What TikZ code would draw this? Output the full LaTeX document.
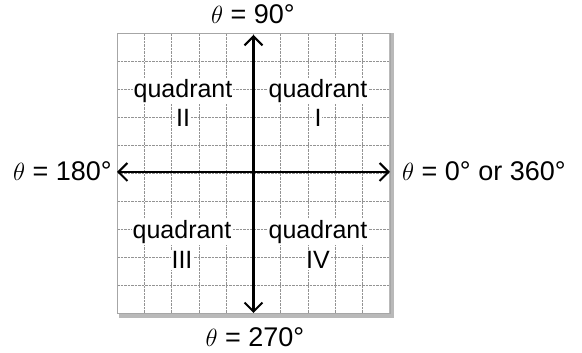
\documentclass[tikz,border=0pt]{standalone}
\usepackage{fontspec}
\setmainfont{Liberation Sans}
\usetikzlibrary{arrows.meta}
\begin{document}
\begin{tikzpicture}[x=1pt,y=1pt,
  gridline/.style={gray!85, line width=0.8pt, dash pattern=on 2.5pt off 1pt},
  axisline/.style={line width=2.2pt, {Straight Barb[length=9pt,width=18pt,line width=2pt]}-{Straight Barb[length=9pt,width=18pt,line width=2pt]}},
  qlabel/.style={font=\fontsize{25}{25}\selectfont, inner sep=1pt, fill=white},
  numlabel/.style={font=\fontsize{27}{27}\selectfont, inner sep=0pt},
  shadow/.style={fill=gray!55, draw=none}]
\useasboundingbox (0,0) rectangle (582,353);
% grid: x 117..390, y(img) 33..313 -> y 320..40
\fill[shadow] (389,35) rectangle (394,320);
\fill[shadow] (119,35) rectangle (394,40);
\foreach \i in {0,...,10} {
  \draw[gridline] (117+\i*27.3,40) -- (117+\i*27.3,320);
  \draw[gridline] (117,40+\i*28) -- (390,40+\i*28);
}
\draw[gray!70, line width=0.6pt] (117,40) rectangle (390,320);
% quadrant labels
\node[qlabel] (q1) at (318,262) {quadrant};
\node[qlabel] (q1n) at (318,235) {I};
\node[qlabel] (q2) at (183,262) {quadrant};
\node[qlabel] (q2n) at (183,235) {II};
\node[qlabel] (q3) at (182,121) {quadrant};
\node[qlabel] (q3n) at (182,93) {III};
\node[qlabel] (q4) at (318,121) {quadrant};
\node[qlabel] (q4n) at (318,93) {IV};
% axes
\coordinate (top) at (253.5,318);
\coordinate (bottom) at (253.5,40);
\coordinate (left) at (117,181);
\coordinate (right) at (390,181);
\draw[axisline] (bottom) -- (top);
\draw[axisline] (left) -- (right);
% angle labels
\node[numlabel, anchor=base] (n90) at (253,329) {$\theta$ = 90°};
\node[numlabel, anchor=base] (n270) at (255,6) {$\theta$ = 270°};
\node[numlabel, anchor=base east] (n180) at (112,172) {$\theta$ = 180°};
\node[numlabel, anchor=base west] (n0) at (402,172) {$\theta$ = 0° or 360°};
\end{tikzpicture}
\end{document}
